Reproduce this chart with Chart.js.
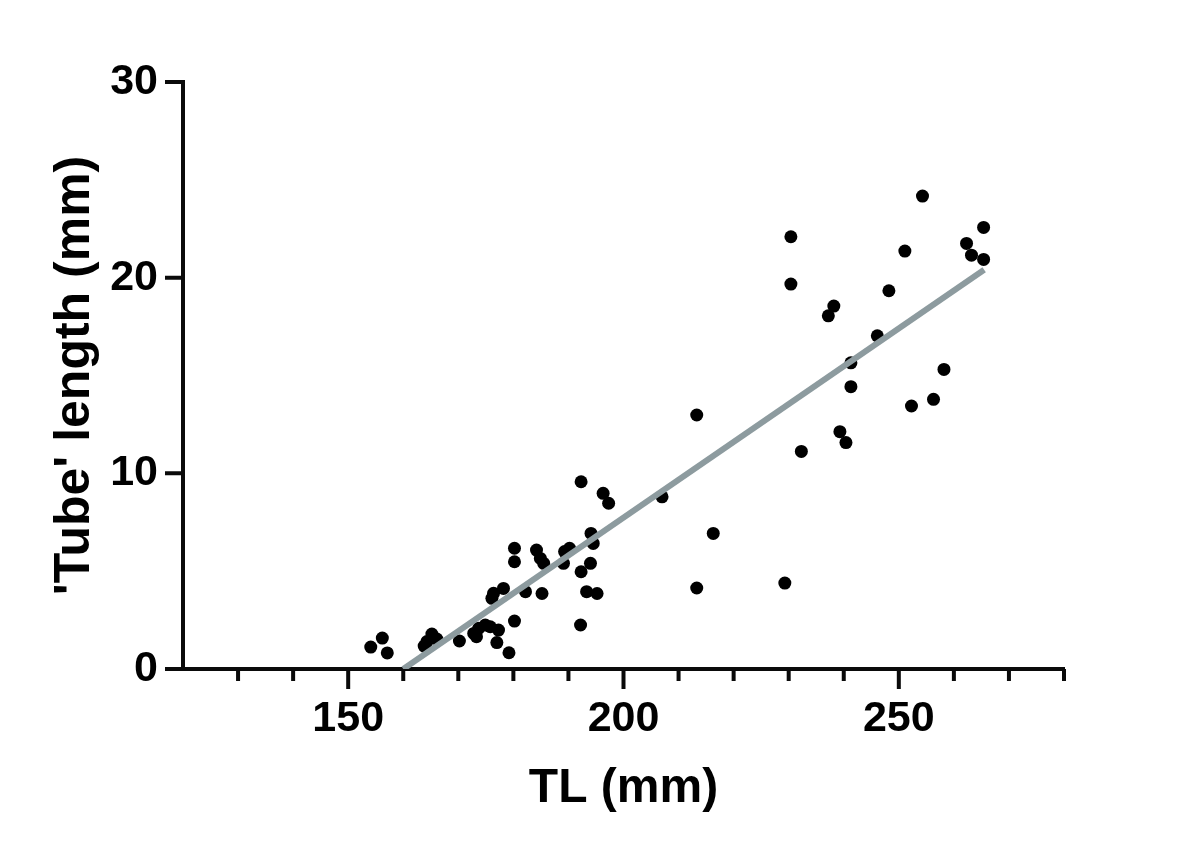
<!DOCTYPE html>
<html>
<head>
<meta charset="utf-8">
<title>Tube length vs TL</title>
<script src="https://cdn.jsdelivr.net/npm/chart.js@4.4.1/dist/chart.umd.min.js"></script>
<style>
	body { margin: 0; background: #fff; }
	#mycanvas { display: block; }
</style>
</head>
<body>
<canvas id="mycanvas" width="1200" height="852"></canvas>
<script>
// values
var tl = [
	154.1, 156.2, 157.1, 163.8, 164.3, 165.2, 166.1, 170.2, 172.8, 173.3,
	173.7, 174.9, 175.8, 177.3, 177.0, 179.2, 180.2, 176.1, 176.4, 178.2,
	182.2, 180.2, 180.2, 184.2, 184.9, 185.5, 185.2, 189.3, 190.2, 189.1,
	192.3, 192.3, 192.2, 194.1, 194.5, 194.0, 193.3, 195.2, 196.3, 197.3,
	207.0, 213.3, 213.3, 216.3, 229.3, 230.4, 230.4, 232.3, 237.2, 238.2,
	239.3, 240.4, 241.3, 241.3, 246.1, 248.2, 251.1, 252.3, 254.3, 256.3,
	258.2, 262.3, 263.2, 265.4, 265.4
];
var tube = [
	1.12, 1.58, 0.82, 1.17, 1.40, 1.79, 1.53, 1.43, 1.82, 1.65,
	2.08, 2.25, 2.16, 1.99, 1.35, 0.83, 2.45, 3.61, 3.87, 4.12,
	3.95, 5.48, 6.17, 6.08, 5.65, 5.40, 3.86, 6.00, 6.17, 5.40,
	9.57, 4.97, 2.25, 6.93, 6.42, 5.40, 3.95, 3.86, 8.98, 8.47,
	8.80, 12.98, 4.14, 6.93, 4.39, 22.09, 19.67, 11.12, 18.05, 18.55,
	12.13, 11.57, 15.65, 14.43, 17.03, 19.33, 21.36, 13.44, 24.17, 13.78,
	15.31, 21.75, 21.15, 20.93, 22.57
];
var fitX = [160, 265.5];
var fitY = [0, 20.4];

var xLabels = [150, 200, 250];
var xMinor = [130, 140, 150, 160, 170, 180, 190, 200, 210, 220, 230, 240, 250, 260, 270, 280];
var yLabels = [0, 10, 20, 30];

var points = [];
for (var i = 0; i < tl.length; i++) {
	points.push({x: tl[i], y: tube[i]});
}
var fit = [];
for (var j = 0; j < fitX.length; j++) {
	fit.push({x: fitX[j], y: fitY[j]});
}

var axisColor = "#0a0a0a";

// outward tick marks, long ones under the labelled values
var tickMarks = {
	id: "tickMarks",
	afterDraw: function(chart) {
		var c = chart.ctx;
		var xs = chart.scales.x;
		var ys = chart.scales.y;
		c.save();
		c.strokeStyle = axisColor;
		c.lineWidth = 4;
		c.lineCap = "butt";
		c.beginPath();
		for (var i = 0; i < xMinor.length; i++) {
			var px = xs.getPixelForValue(xMinor[i]);
			var len = xLabels.indexOf(xMinor[i]) >= 0 ? 20 : 12;
			c.moveTo(px, xs.top);
			c.lineTo(px, xs.top + len);
		}
		for (var k = 0; k < yLabels.length; k++) {
			var py = ys.getPixelForValue(yLabels[k]);
			c.moveTo(ys.right - 18, py);
			c.lineTo(ys.right, py);
		}
		c.stroke();
		c.restore();
	}
};

Chart.defaults.font.family = "'Liberation Sans', Arial, sans-serif";
Chart.defaults.font.weight = "bold";
Chart.defaults.color = "#000000";

var ctx = document.getElementById("mycanvas");
var new_chart = new Chart(ctx, {
	type: "scatter",
	data: {
		datasets: [
			{
				type: "line",
				data: fit,
				borderColor: "#8d9b9f",
				borderWidth: 6,
				pointRadius: 0,
				fill: false,
				order: 0
			},
			{
				data: points,
				backgroundColor: "#000000",
				borderWidth: 0,
				pointRadius: 6.5,
				order: 1
			}
		]
	},
	options: {
		responsive: false,
		animation: false,
		events: [],
		layout: { padding: { left: 0, top: 82, right: 136, bottom: 0 } },
		plugins: {
			legend: { display: false },
			tooltip: { enabled: false }
		},
		scales: {
			x: {
				type: "linear",
				min: 120,
				max: 280,
				afterFit: function(scale) { scale.height = 183; },
				afterBuildTicks: function(scale) {
					scale.ticks = xLabels.map(function(v) { return {value: v}; });
				},
				grid: { display: false, drawTicks: false, tickLength: 0 },
				border: { display: true, color: axisColor, width: 4 },
				ticks: {
					padding: 24,
					maxRotation: 0,
					font: { size: 43, weight: "bold" },
					color: "#000000"
				},
				title: {
					display: true,
					text: "TL (mm)",
					font: { size: 48, weight: "bold" },
					color: "#000000",
					padding: { top: 0, bottom: 34 }
				}
			},
			y: {
				type: "linear",
				min: 0,
				max: 30,
				afterFit: function(scale) { scale.width = 183; },
				afterBuildTicks: function(scale) {
					scale.ticks = yLabels.map(function(v) { return {value: v}; });
				},
				grid: { display: false, drawTicks: false, tickLength: 0 },
				border: { display: true, color: axisColor, width: 4 },
				ticks: {
					padding: 25,
					font: { size: 43, weight: "bold" },
					color: "#000000"
				},
				title: {
					display: true,
					text: "'Tube' length (mm)",
					font: { size: 50, weight: "bold" },
					color: "#000000",
					padding: { top: 45, bottom: 0 }
				}
			}
		}
	},
	plugins: [tickMarks]
});
</script>
</body>
</html>
